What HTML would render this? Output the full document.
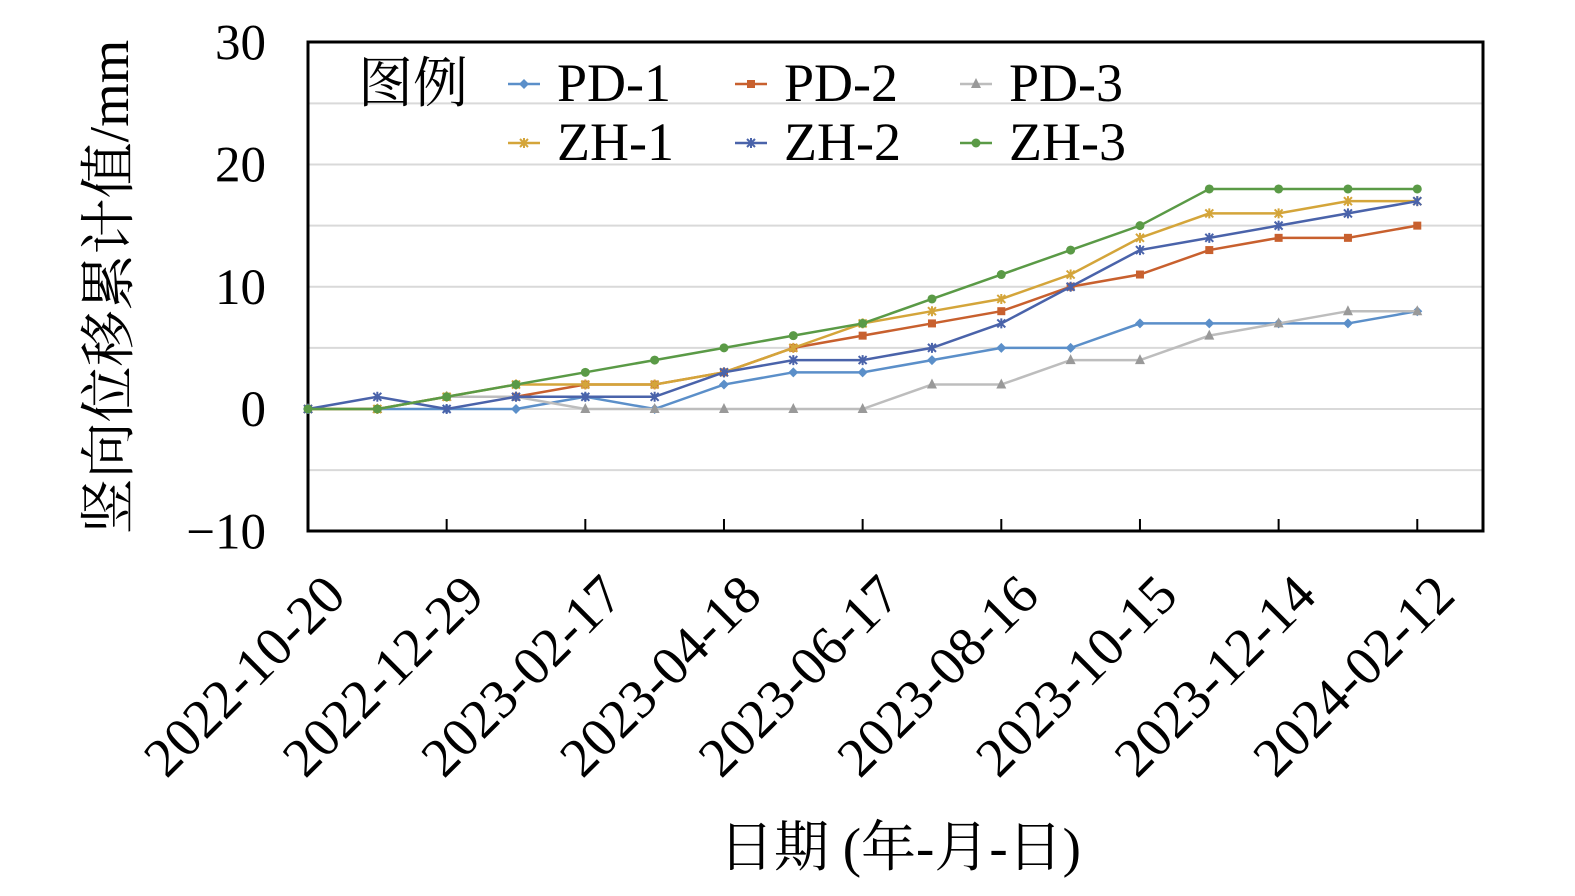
<!DOCTYPE html><html><head><meta charset="utf-8"><style>body{margin:0;background:#fff}svg{display:block}</style></head><body>
<svg id="s" width="1575" height="896" xmlns="http://www.w3.org/2000/svg" font-family="'Liberation Serif','Noto Serif CJK SC',serif"></svg>
<script>
const s=document.getElementById('s');let h='';
const X0=308,DX=69.33,Y0=409,K=12.225;
const px=i=>X0+i*DX, py=v=>Y0-v*K;
[25,20,15,10,5,0,-5].forEach(v=>h+=`<line x1="308" x2="1483" y1="${py(v)}" y2="${py(v)}" stroke="#d9d9d9" stroke-width="2"/>`);
h+=`<rect x="308" y="42" width="1175" height="489" fill="none" stroke="#000" stroke-width="3"/>`;
[30,20,10,0,-10].forEach(v=>h+=`<text x="266" y="${py(v)+17}" font-size="51" text-anchor="end">${v<0?'−10':v}</text>`);
const d=['2022-10-20','2022-12-29','2023-02-17','2023-04-18','2023-06-17','2023-08-16','2023-10-15','2023-12-14','2024-02-12'];
d.forEach((t,i)=>{const x=px(2*i);h+=`<line x1="${x}" x2="${x}" y1="531" y2="519" stroke="#000" stroke-width="2"/><text transform="translate(${x+40},${598}) rotate(-45)" font-size="55" text-anchor="end">${t}</text>`});
const S=[
['PD-1','#5b8fc9','d',[0,0,0,0,1,0,2,3,3,4,5,5,7,7,7,7,8]],
['PD-2','#c8602e','s',[0,0,1,1,2,2,3,5,6,7,8,10,11,13,14,14,15]],
['PD-3','#bdbdbd','t',[0,0,1,1,0,0,0,0,0,2,2,4,4,6,7,8,8]],
['ZH-1','#d4a53a','x',[0,0,1,2,2,2,3,5,7,8,9,11,14,16,16,17,17]],
['ZH-2','#4a63aa','x',[0,1,0,1,1,1,3,4,4,5,7,10,13,14,15,16,17]],
['ZH-3','#5a9a46','c',[0,0,1,2,3,4,5,6,7,9,11,13,15,18,18,18,18]]];
function m(t,x,y,c){if(t=='d')return `<path d="M${x} ${y-5}L${x+5} ${y}L${x} ${y+5}L${x-5} ${y}Z" fill="${c}"/>`;
if(t=='s')return `<rect x="${x-4}" y="${y-4}" width="8" height="8" fill="${c}"/>`;
if(t=='t')return `<path d="M${x} ${y-6}L${x+5} ${y+4}L${x-5} ${y+4}Z" fill="#999"/>`;
if(t=='c')return `<circle cx="${x}" cy="${y}" r="4.5" fill="${c}"/>`;
return `<path d="M${x-4} ${y-4}L${x+4} ${y+4}M${x+4} ${y-4}L${x-4} ${y+4}M${x} ${y-5}V${y+5}" stroke="${c}" stroke-width="2"/>`;}
S.forEach(([n,c,t,v])=>{h+=`<polyline fill="none" stroke="${c}" stroke-width="2.5" points="${v.map((a,i)=>px(i)+','+py(a)).join(' ')}"/>`;v.forEach((a,i)=>h+=m(t,px(i),py(a),c));});
h+=`<text x="358" y="102" font-size="55">图例</text>`;
const L=[[508,82],[735,82],[960,82],[508,141],[735,141],[960,141]];
S.forEach(([n,c,t],i)=>{const [x,y]=L[i];h+=`<line x1="${x}" x2="${x+32}" y1="${y+2}" y2="${y+2}" stroke="${c}" stroke-width="2.5"/>`+m(t,x+16,y+2,c)+`<text x="${x+49}" y="${y+19}" font-size="54">${n}</text>`});
h+=`<text transform="translate(128,287) rotate(-90)" font-size="56" text-anchor="middle">竖向位移累计值/mm</text>`;
h+=`<text x="900" y="866" font-size="55" text-anchor="middle">日期 (年-月-日)</text>`;
s.innerHTML=h;
</script></body></html>
